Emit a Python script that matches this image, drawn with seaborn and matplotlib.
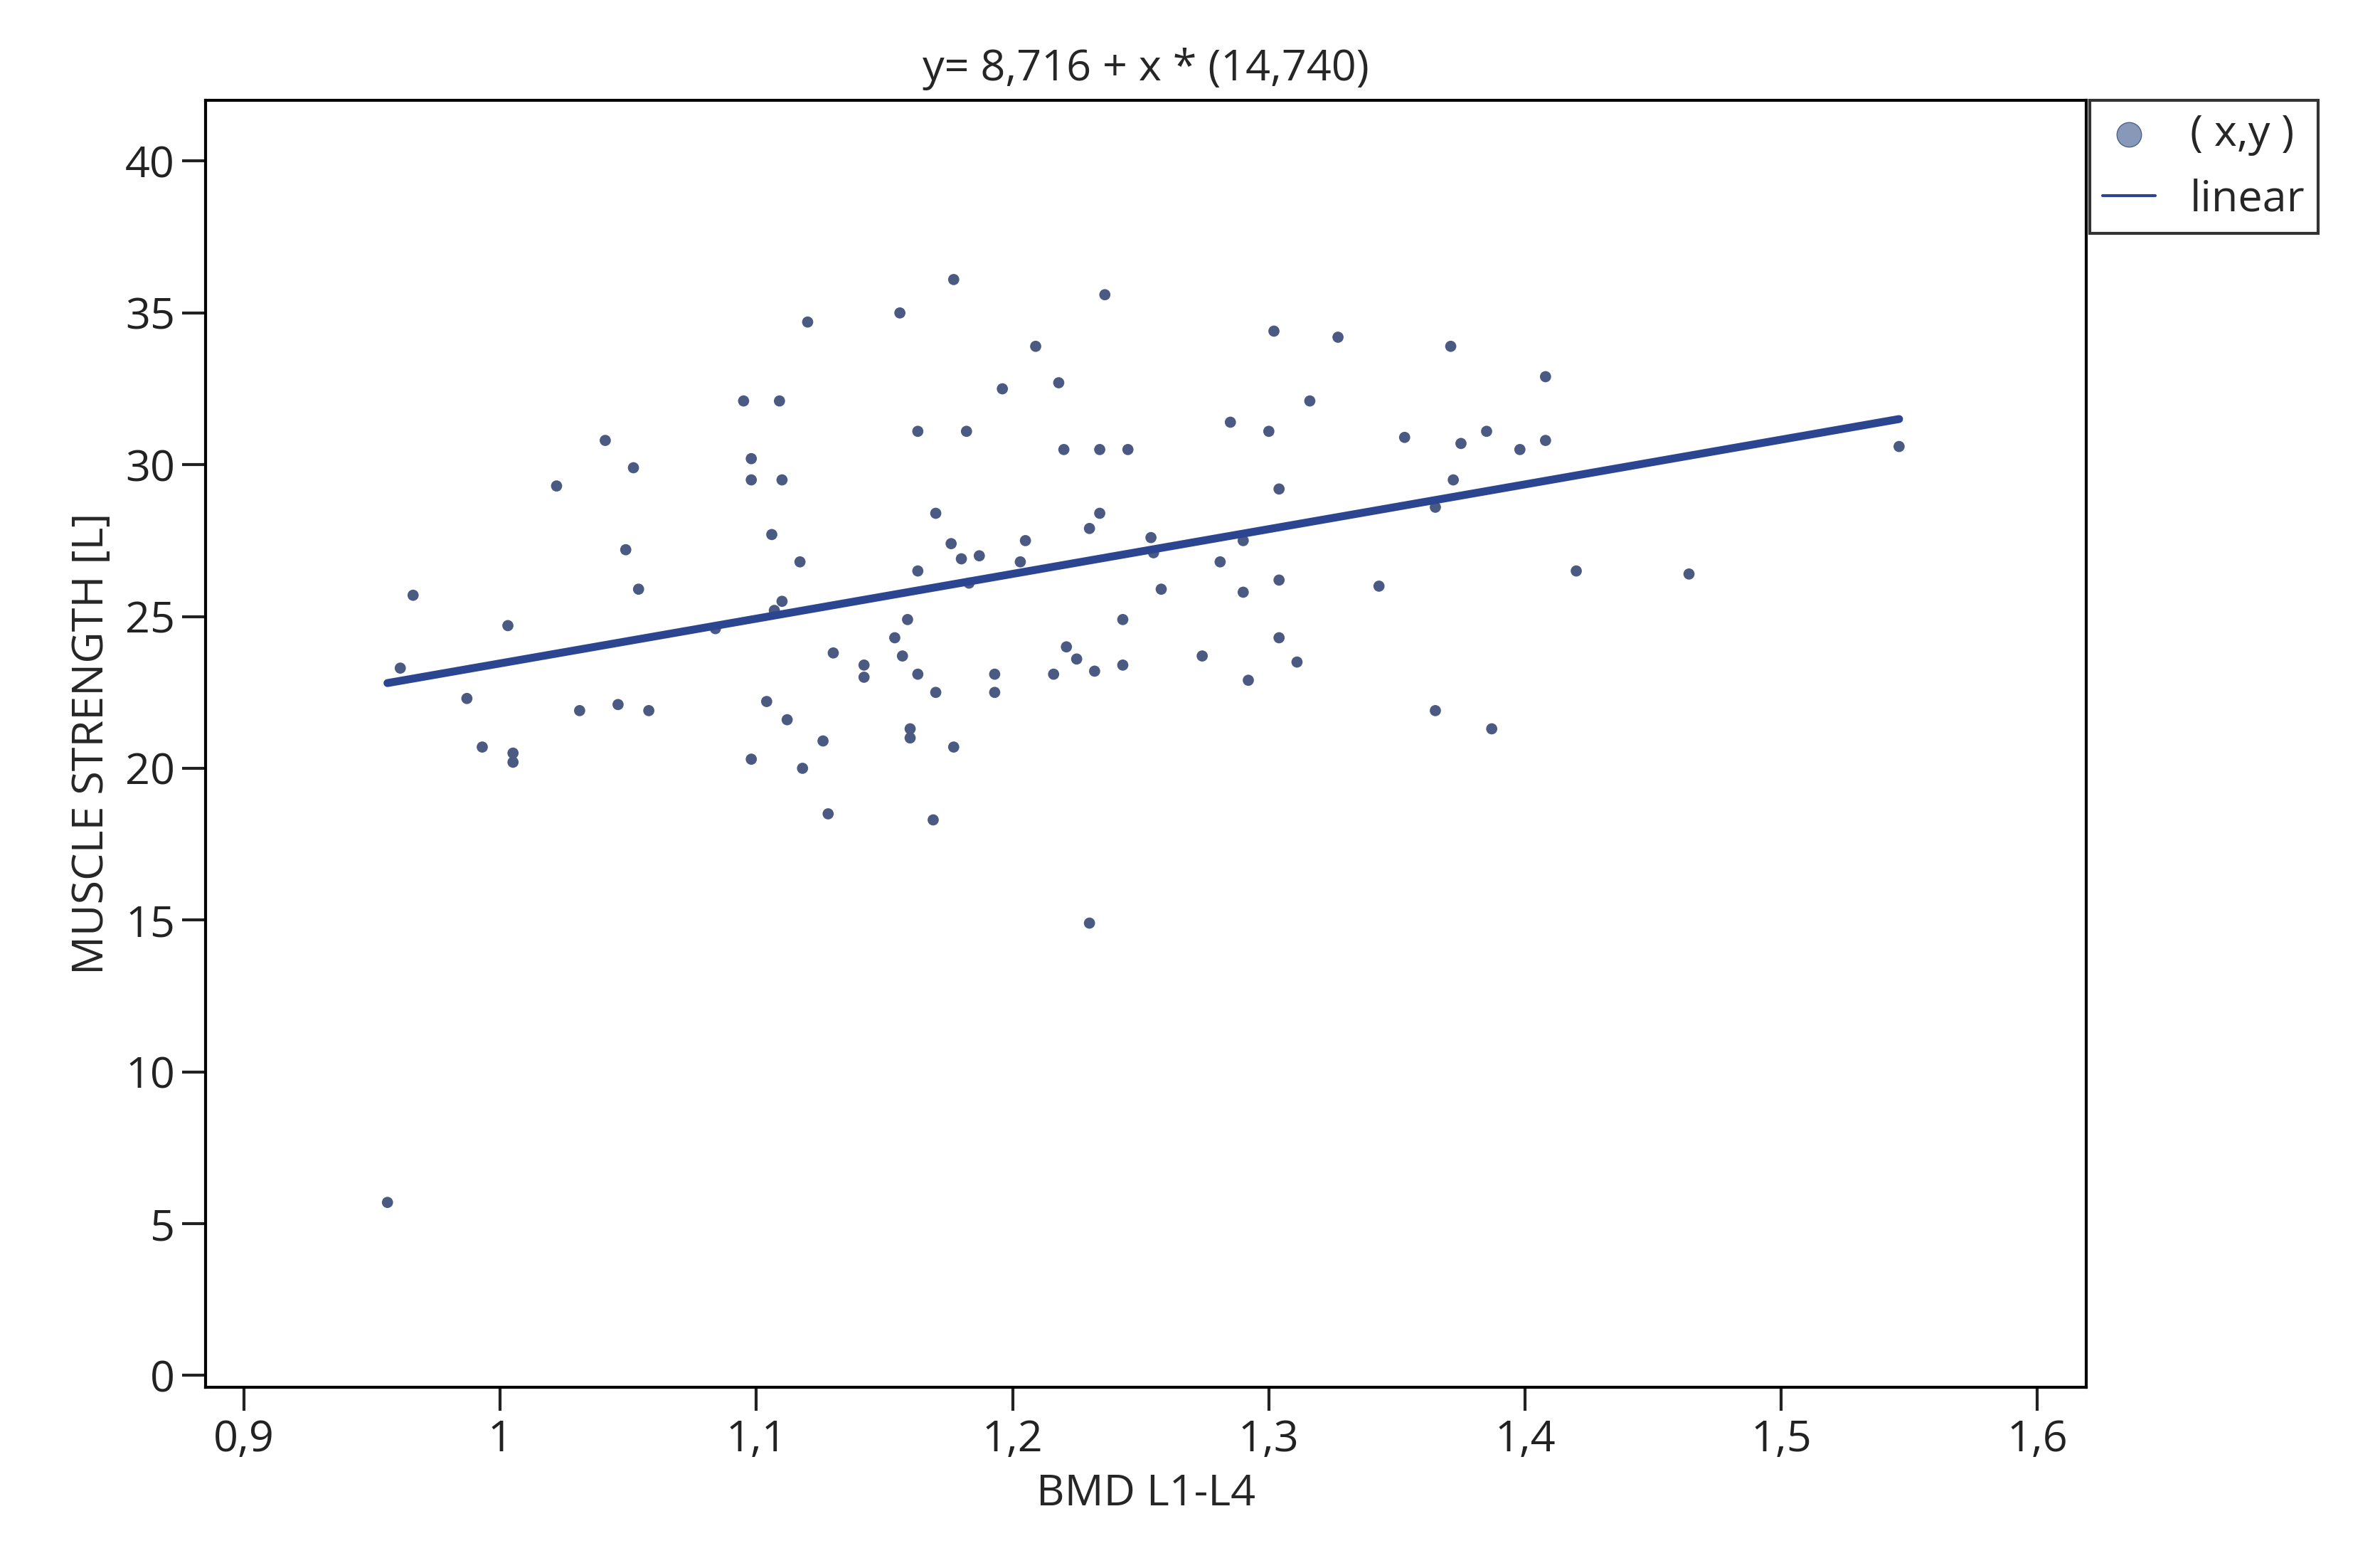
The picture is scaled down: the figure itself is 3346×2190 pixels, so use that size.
import numpy as np
import pandas as pd
import matplotlib
matplotlib.use("Agg")
import matplotlib.pyplot as plt
import seaborn as sns

bmd = [0.961, 0.966, 0.956, 0.987, 0.993, 1.005, 1.005, 1.003, 1.022, 1.031,
       1.041, 1.046, 1.049, 1.052, 1.054, 1.058, 1.084, 1.095, 1.098, 1.098,
       1.098, 1.104, 1.106, 1.109, 1.110, 1.110, 1.107, 1.112, 1.117, 1.118,
       1.120, 1.126, 1.128, 1.130, 1.142, 1.142, 1.154, 1.156, 1.157, 1.159,
       1.160, 1.160, 1.163, 1.163, 1.163, 1.169, 1.170, 1.170, 1.176, 1.177,
       1.177, 1.180, 1.182, 1.183, 1.187, 1.193, 1.193, 1.196, 1.203, 1.205,
       1.209, 1.216, 1.218, 1.220, 1.221, 1.225, 1.230, 1.230, 1.232, 1.234,
       1.234, 1.236, 1.243, 1.243, 1.245, 1.254, 1.255, 1.258, 1.274, 1.281,
       1.285, 1.290, 1.290, 1.292, 1.300, 1.302, 1.304, 1.304, 1.304, 1.311,
       1.316, 1.327, 1.343, 1.353, 1.365, 1.365, 1.371, 1.372, 1.375, 1.385,
       1.387, 1.398, 1.408, 1.408, 1.420, 1.464, 1.546]
strength = [23.3, 25.7, 5.7, 22.3, 20.7, 20.5, 20.2, 24.7, 29.3, 21.9,
            30.8, 22.1, 27.2, 29.9, 25.9, 21.9, 24.6, 32.1, 30.2, 29.5,
            20.3, 22.2, 27.7, 32.1, 29.5, 25.5, 25.2, 21.6, 26.8, 20.0,
            34.7, 20.9, 18.5, 23.8, 23.4, 23.0, 24.3, 35.0, 23.7, 24.9,
            21.3, 21.0, 26.5, 31.1, 23.1, 18.3, 28.4, 22.5, 27.4, 36.1,
            20.7, 26.9, 31.1, 26.1, 27.0, 23.1, 22.5, 32.5, 26.8, 27.5,
            33.9, 23.1, 32.7, 30.5, 24.0, 23.6, 14.9, 27.9, 23.2, 28.4,
            30.5, 35.6, 23.4, 24.9, 30.5, 27.6, 27.1, 25.9, 23.7, 26.8,
            31.4, 27.5, 25.8, 22.9, 31.1, 34.4, 29.2, 26.2, 24.3, 23.5,
            32.1, 34.2, 26.0, 30.9, 21.9, 28.6, 33.9, 29.5, 30.7, 31.1,
            21.3, 30.5, 32.9, 30.8, 26.5, 26.4, 30.6]
intercept = 8.716
slope = 14.740

df = pd.DataFrame({"x": bmd, "y": strength})
xs = np.array([min(bmd), max(bmd)])
line = pd.DataFrame({"x": xs, "y": intercept + slope * xs})

sns.set_theme(style="white")
plt.rcParams['font.family'] = ['Open Sans', 'DejaVu Sans']

fs = 22
fig = plt.figure(figsize=(16.73, 10.95), dpi=200)
ax = fig.add_axes([135 / 1563, 1 - 912 / 1024, 1235 / 1563, 846 / 1024])

sns.scatterplot(data=df, x="x", y="y", ax=ax, color="#4a5a82", s=32,
                edgecolor="none", label="( x,y )")
sns.lineplot(data=line, x="x", y="y", ax=ax, color="#2b4590", linewidth=4,
             label="linear")

ax.set_xlim(0.885, 1.619)
ax.set_ylim(-0.4, 42)
ax.set_xticks(np.arange(0.9, 1.61, 0.1))
ax.set_xticklabels(["0,9", "1", "1,1", "1,2", "1,3", "1,4", "1,5", "1,6"])
ax.set_yticks(range(0, 41, 5))
ax.tick_params(axis="both", direction="out", length=12, width=1.5,
               labelsize=fs, colors="#222222", bottom=True, left=True)
for s in ax.spines.values():
    s.set_color("black")
    s.set_linewidth(1.5)
ax.set_xlabel("BMD L1-L4", fontsize=fs, labelpad=6)
ax.set_ylabel("MUSCLE STRENGTH [L]", fontsize=fs, labelpad=6)
ax.set_title("y= 8,716 + x * (14,740)", fontsize=fs, pad=10)

leg = ax.legend(loc="upper left", bbox_to_anchor=(1.002, 1.0), fontsize=fs,
                frameon=True, fancybox=False, borderaxespad=0,
                handlelength=1.2, markerscale=2.2, borderpad=0.3)
leg.get_frame().set_edgecolor("black")
leg.get_frame().set_linewidth(1.5)
leg.legend_handles[0].set_color("#8798b8")
leg.legend_handles[0].set_edgecolor("#4a5a82")
leg.legend_handles[1].set_linewidth(1.5)

fig.savefig("out.png", dpi=200, facecolor="white")
